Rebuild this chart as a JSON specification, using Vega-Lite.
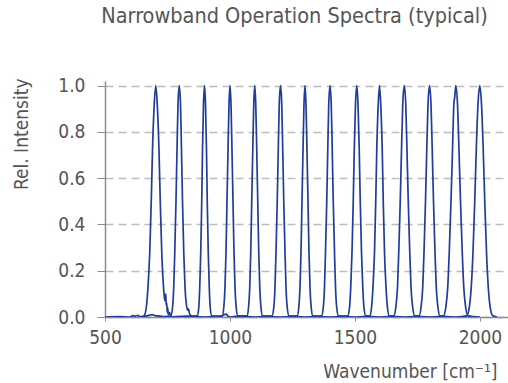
{
  "$schema": "https://vega.github.io/schema/vega-lite/v6.json",
  "autosize": {"type": "none"},
  "padding": {"left": 105, "top": 81, "right": 0, "bottom": 66},
  "width": 403,
  "height": 236,
  "background": "white",
  "title": {
    "text": "Narrowband Operation Spectra (typical)",
    "font": "DejaVu Sans Condensed",
    "fontSize": 21.5,
    "fontWeight": "normal",
    "color": "#555555",
    "anchor": "middle",
    "frame": "group",
    "baseline": "alphabetic",
    "offset": 32,
    "dx": -12
  },
  "data": {
    "values": [
      {"s":700,"x":500,"y":0},{"s":700,"x":560,"y":0.002},{"s":700,"x":600,"y":0},{"s":700,"x":610,"y":0.006},{"s":700,"x":620,"y":0.004},{"s":700,"x":632,"y":0.007},{"s":700,"x":640,"y":0.001},{"s":700,"x":650,"y":0.003},{"s":700,"x":656,"y":0.005},{"s":700,"x":665,"y":0.04},{"s":700,"x":672,"y":0.13},{"s":700,"x":679,"y":0.28},{"s":700,"x":685,"y":0.5},{"s":700,"x":690,"y":0.72},{"s":700,"x":697,"y":0.92},{"s":700,"x":703,"y":1.0},{"s":700,"x":709,"y":0.92},{"s":700,"x":716,"y":0.72},{"s":700,"x":721,"y":0.5},{"s":700,"x":727,"y":0.28},{"s":700,"x":734,"y":0.13},{"s":700,"x":738,"y":0.08},{"s":700,"x":741,"y":0.07},{"s":700,"x":743,"y":0.1},{"s":700,"x":745,"y":0.05},{"s":700,"x":747,"y":0.06},{"s":700,"x":749,"y":0.02},{"s":700,"x":751,"y":0.04},{"s":700,"x":753,"y":0.01},{"s":700,"x":758,"y":0.02},{"s":700,"x":765,"y":0},{"s":700,"x":800,"y":0.003},{"s":700,"x":850,"y":0},
      {"s":800,"x":650,"y":0},{"s":800,"x":680,"y":0.008},{"s":800,"x":690,"y":0.01},{"s":800,"x":700,"y":0.006},{"s":800,"x":720,"y":0.004},{"s":800,"x":740,"y":0.002},{"s":800,"x":763,"y":0.005},{"s":800,"x":770,"y":0.04},{"s":800,"x":775,"y":0.13},{"s":800,"x":779,"y":0.28},{"s":800,"x":784,"y":0.5},{"s":800,"x":788,"y":0.72},{"s":800,"x":792,"y":0.92},{"s":800,"x":797,"y":1.0},{"s":800,"x":802,"y":0.92},{"s":800,"x":806,"y":0.72},{"s":800,"x":810,"y":0.5},{"s":800,"x":815,"y":0.28},{"s":800,"x":820,"y":0.13},{"s":800,"x":826,"y":0.05},{"s":800,"x":830,"y":0.03},{"s":800,"x":834,"y":0.035},{"s":800,"x":838,"y":0.015},{"s":800,"x":845,"y":0.005},{"s":800,"x":870,"y":0.002},{"s":800,"x":900,"y":0},
      {"s":900,"x":800,"y":0},{"s":900,"x":830,"y":0.004},{"s":900,"x":850,"y":0.003},{"s":900,"x":869,"y":0.005},{"s":900,"x":875,"y":0.04},{"s":900,"x":879,"y":0.13},{"s":900,"x":883,"y":0.28},{"s":900,"x":887,"y":0.5},{"s":900,"x":890,"y":0.72},{"s":900,"x":894,"y":0.92},{"s":900,"x":898,"y":1.0},{"s":900,"x":902,"y":0.92},{"s":900,"x":906,"y":0.72},{"s":900,"x":909,"y":0.5},{"s":900,"x":913,"y":0.28},{"s":900,"x":917,"y":0.13},{"s":900,"x":921,"y":0.04},{"s":900,"x":927,"y":0.005},{"s":900,"x":960,"y":0.002},{"s":900,"x":985,"y":0.012},{"s":900,"x":990,"y":0.006},{"s":900,"x":1000,"y":0},
      {"s":1000,"x":900,"y":0},{"s":1000,"x":940,"y":0.003},{"s":1000,"x":969,"y":0.005},{"s":1000,"x":975,"y":0.04},{"s":1000,"x":980,"y":0.13},{"s":1000,"x":984,"y":0.28},{"s":1000,"x":988,"y":0.5},{"s":1000,"x":992,"y":0.72},{"s":1000,"x":996,"y":0.92},{"s":1000,"x":1000,"y":1.0},{"s":1000,"x":1004,"y":0.92},{"s":1000,"x":1008,"y":0.72},{"s":1000,"x":1012,"y":0.5},{"s":1000,"x":1016,"y":0.28},{"s":1000,"x":1020,"y":0.13},{"s":1000,"x":1025,"y":0.04},{"s":1000,"x":1031,"y":0.005},{"s":1000,"x":1060,"y":0.003},{"s":1000,"x":1100,"y":0},
      {"s":1100,"x":1000,"y":0},{"s":1100,"x":1040,"y":0.004},{"s":1100,"x":1068,"y":0.005},{"s":1100,"x":1074,"y":0.04},{"s":1100,"x":1079,"y":0.13},{"s":1100,"x":1083,"y":0.28},{"s":1100,"x":1087,"y":0.5},{"s":1100,"x":1091,"y":0.72},{"s":1100,"x":1095,"y":0.92},{"s":1100,"x":1099,"y":1.0},{"s":1100,"x":1103,"y":0.92},{"s":1100,"x":1107,"y":0.72},{"s":1100,"x":1111,"y":0.5},{"s":1100,"x":1115,"y":0.28},{"s":1100,"x":1119,"y":0.13},{"s":1100,"x":1124,"y":0.04},{"s":1100,"x":1130,"y":0.005},{"s":1100,"x":1160,"y":0.002},{"s":1100,"x":1200,"y":0},
      {"s":1200,"x":1100,"y":0},{"s":1200,"x":1140,"y":0.003},{"s":1200,"x":1168,"y":0.005},{"s":1200,"x":1175,"y":0.04},{"s":1200,"x":1180,"y":0.13},{"s":1200,"x":1184,"y":0.28},{"s":1200,"x":1189,"y":0.5},{"s":1200,"x":1193,"y":0.72},{"s":1200,"x":1197,"y":0.92},{"s":1200,"x":1202,"y":1.0},{"s":1200,"x":1207,"y":0.92},{"s":1200,"x":1211,"y":0.72},{"s":1200,"x":1215,"y":0.5},{"s":1200,"x":1220,"y":0.28},{"s":1200,"x":1224,"y":0.13},{"s":1200,"x":1229,"y":0.04},{"s":1200,"x":1236,"y":0.005},{"s":1200,"x":1270,"y":0.002},{"s":1200,"x":1300,"y":0},
      {"s":1300,"x":1200,"y":0},{"s":1300,"x":1269,"y":0.005},{"s":1300,"x":1275,"y":0.04},{"s":1300,"x":1280,"y":0.13},{"s":1300,"x":1284,"y":0.28},{"s":1300,"x":1288,"y":0.5},{"s":1300,"x":1292,"y":0.72},{"s":1300,"x":1296,"y":0.92},{"s":1300,"x":1300,"y":1.0},{"s":1300,"x":1304,"y":0.92},{"s":1300,"x":1308,"y":0.72},{"s":1300,"x":1312,"y":0.5},{"s":1300,"x":1316,"y":0.28},{"s":1300,"x":1320,"y":0.13},{"s":1300,"x":1325,"y":0.04},{"s":1300,"x":1331,"y":0.005},{"s":1300,"x":1400,"y":0},
      {"s":1400,"x":1300,"y":0},{"s":1400,"x":1366,"y":0.005},{"s":1400,"x":1373,"y":0.04},{"s":1400,"x":1378,"y":0.13},{"s":1400,"x":1382,"y":0.28},{"s":1400,"x":1387,"y":0.5},{"s":1400,"x":1391,"y":0.72},{"s":1400,"x":1395,"y":0.92},{"s":1400,"x":1400,"y":1.0},{"s":1400,"x":1405,"y":0.92},{"s":1400,"x":1409,"y":0.72},{"s":1400,"x":1413,"y":0.5},{"s":1400,"x":1418,"y":0.28},{"s":1400,"x":1422,"y":0.13},{"s":1400,"x":1427,"y":0.04},{"s":1400,"x":1434,"y":0.005},{"s":1400,"x":1500,"y":0},
      {"s":1500,"x":1400,"y":0},{"s":1500,"x":1471,"y":0.005},{"s":1500,"x":1478,"y":0.04},{"s":1500,"x":1483,"y":0.13},{"s":1500,"x":1488,"y":0.28},{"s":1500,"x":1493,"y":0.5},{"s":1500,"x":1497,"y":0.72},{"s":1500,"x":1502,"y":0.92},{"s":1500,"x":1507,"y":1.0},{"s":1500,"x":1512,"y":0.92},{"s":1500,"x":1517,"y":0.72},{"s":1500,"x":1521,"y":0.5},{"s":1500,"x":1526,"y":0.28},{"s":1500,"x":1531,"y":0.13},{"s":1500,"x":1536,"y":0.04},{"s":1500,"x":1543,"y":0.005},{"s":1500,"x":1600,"y":0},
      {"s":1600,"x":1500,"y":0},{"s":1600,"x":1559,"y":0.005},{"s":1600,"x":1566,"y":0.04},{"s":1600,"x":1572,"y":0.13},{"s":1600,"x":1578,"y":0.28},{"s":1600,"x":1583,"y":0.5},{"s":1600,"x":1587,"y":0.72},{"s":1600,"x":1593,"y":0.92},{"s":1600,"x":1598,"y":1.0},{"s":1600,"x":1603,"y":0.92},{"s":1600,"x":1609,"y":0.72},{"s":1600,"x":1613,"y":0.5},{"s":1600,"x":1618,"y":0.28},{"s":1600,"x":1624,"y":0.13},{"s":1600,"x":1630,"y":0.04},{"s":1600,"x":1637,"y":0.005},{"s":1600,"x":1700,"y":0},
      {"s":1700,"x":1600,"y":0},{"s":1700,"x":1655,"y":0.005},{"s":1700,"x":1663,"y":0.04},{"s":1700,"x":1670,"y":0.13},{"s":1700,"x":1675,"y":0.28},{"s":1700,"x":1681,"y":0.5},{"s":1700,"x":1686,"y":0.72},{"s":1700,"x":1691,"y":0.92},{"s":1700,"x":1697,"y":1.0},{"s":1700,"x":1703,"y":0.92},{"s":1700,"x":1708,"y":0.72},{"s":1700,"x":1713,"y":0.5},{"s":1700,"x":1719,"y":0.28},{"s":1700,"x":1724,"y":0.13},{"s":1700,"x":1731,"y":0.04},{"s":1700,"x":1739,"y":0.005},{"s":1700,"x":1800,"y":0},
      {"s":1800,"x":1700,"y":0},{"s":1800,"x":1756,"y":0.005},{"s":1800,"x":1764,"y":0.04},{"s":1800,"x":1771,"y":0.13},{"s":1800,"x":1776,"y":0.28},{"s":1800,"x":1782,"y":0.5},{"s":1800,"x":1787,"y":0.72},{"s":1800,"x":1792,"y":0.92},{"s":1800,"x":1798,"y":1.0},{"s":1800,"x":1804,"y":0.92},{"s":1800,"x":1809,"y":0.72},{"s":1800,"x":1814,"y":0.5},{"s":1800,"x":1820,"y":0.28},{"s":1800,"x":1825,"y":0.13},{"s":1800,"x":1832,"y":0.04},{"s":1800,"x":1840,"y":0.005},{"s":1800,"x":1900,"y":0},
      {"s":1900,"x":1800,"y":0},{"s":1900,"x":1854,"y":0.005},{"s":1900,"x":1863,"y":0.04},{"s":1900,"x":1871,"y":0.13},{"s":1900,"x":1877,"y":0.28},{"s":1900,"x":1884,"y":0.5},{"s":1900,"x":1890,"y":0.72},{"s":1900,"x":1896,"y":0.93},{"s":1900,"x":1899,"y":0.95},{"s":1900,"x":1903,"y":1.0},{"s":1900,"x":1910,"y":0.92},{"s":1900,"x":1916,"y":0.72},{"s":1900,"x":1922,"y":0.5},{"s":1900,"x":1929,"y":0.28},{"s":1900,"x":1935,"y":0.13},{"s":1900,"x":1943,"y":0.04},{"s":1900,"x":1952,"y":0.005},{"s":1900,"x":2000,"y":0},
      {"s":2000,"x":1900,"y":0},{"s":2000,"x":1947,"y":0.005},{"s":2000,"x":1957,"y":0.04},{"s":2000,"x":1965,"y":0.13},{"s":2000,"x":1972,"y":0.28},{"s":2000,"x":1979,"y":0.5},{"s":2000,"x":1985,"y":0.72},{"s":2000,"x":1992,"y":0.92},{"s":2000,"x":1999,"y":1.0},{"s":2000,"x":2006,"y":0.92},{"s":2000,"x":2013,"y":0.72},{"s":2000,"x":2019,"y":0.5},{"s":2000,"x":2026,"y":0.28},{"s":2000,"x":2033,"y":0.13},{"s":2000,"x":2041,"y":0.04},{"s":2000,"x":2051,"y":0.005},{"s":2000,"x":2068,"y":0}
    ]
  },
  "mark": {"type": "line", "color": "#1f3d99", "strokeWidth": 1.7, "interpolate": "monotone", "clip": true},
  "encoding": {
    "x": {
      "field": "x", "type": "quantitative",
      "scale": {"domain": [500, 2112], "nice": false, "zero": false},
      "axis": {
        "values": [500, 1000, 1500, 2000],
        "format": "d",
        "labelFlush": false,
        "grid": false,
        "domainColor": "#8c8c8c", "domainWidth": 1.5,
        "tickColor": "#8c8c8c", "tickSize": 4,
        "labelFont": "DejaVu Sans Condensed", "labelFontSize": 19, "labelColor": "#555555",
        "labelPadding": 7,
        "title": "Wavenumber [cm⁻¹]",
        "titleFont": "DejaVu Sans Condensed", "titleFontSize": 19, "titleFontWeight": "normal", "titleColor": "#555555",
        "titleX": 392, "titleY": 60, "titleAlign": "right", "titleBaseline": "alphabetic", "titleAnchor": "end"
      }
    },
    "y": {
      "field": "y", "type": "quantitative",
      "scale": {"domain": [0, 1.02], "nice": false},
      "axis": {
        "values": [0, 0.2, 0.4, 0.6, 0.8, 1.0],
        "format": ".1f",
        "grid": true, "gridDash": [8, 5], "gridColor": "#bdbdbd", "gridWidth": 1.5,
        "domainColor": "#8c8c8c", "domainWidth": 1.5,
        "tickColor": "#8c8c8c", "tickSize": 8,
        "labelFont": "DejaVu Sans Condensed", "labelFontSize": 19, "labelColor": "#555555",
        "labelPadding": 12,
        "title": "Rel. Intensity",
        "titleFont": "DejaVu Sans Condensed", "titleFontSize": 19, "titleFontWeight": "normal", "titleColor": "#555555",
        "titleAngle": -90, "titleX": -84, "titleY": -3, "titleAlign": "right", "titleBaseline": "middle"
      }
    },
    "detail": {"field": "s", "type": "nominal"}
  },
  "config": {"view": {"stroke": null}}
}
